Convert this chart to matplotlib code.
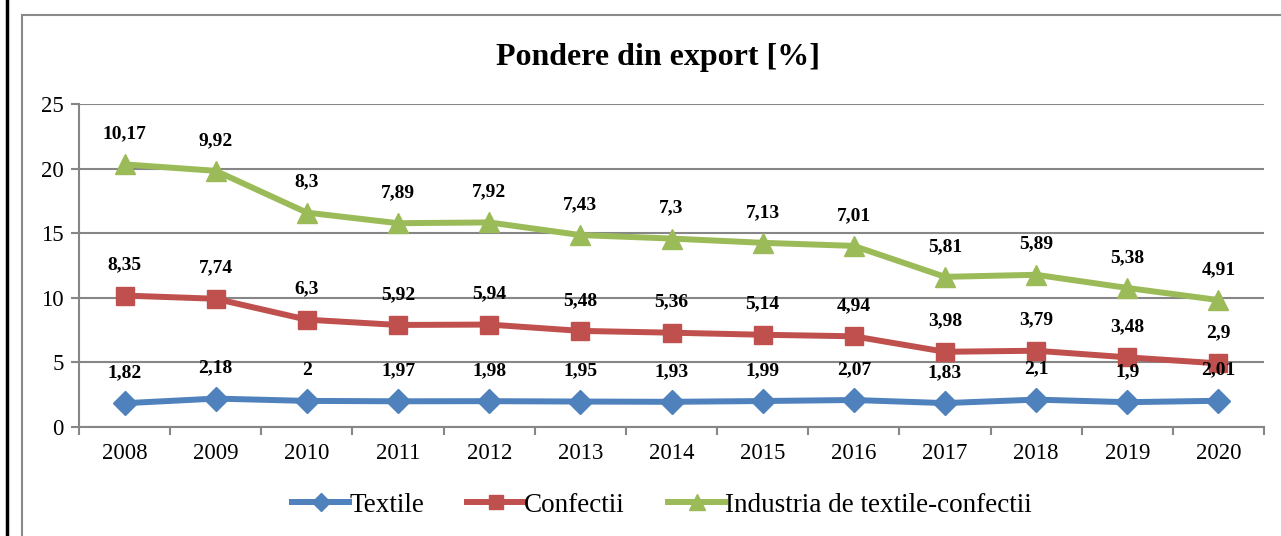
import numpy as np
import matplotlib
matplotlib.use("Agg")
import matplotlib.pyplot as plt
from matplotlib.patches import Rectangle
from matplotlib.lines import Line2D

years = ["2008", "2009", "2010", "2011", "2012", "2013", "2014",
         "2015", "2016", "2017", "2018", "2019", "2020"]
textile = [1.82, 2.18, 2, 1.97, 1.98, 1.95, 1.93, 1.99, 2.07, 1.83, 2.1, 1.9, 2.01]
confectii = [8.35, 7.74, 6.3, 5.92, 5.94, 5.48, 5.36, 5.14, 4.94, 3.98, 3.79, 3.48, 2.9]
industria = [10.17, 9.92, 8.3, 7.89, 7.92, 7.43, 7.3, 7.13, 7.01, 5.81, 5.89, 5.38, 4.91]
series_names = ["Textile", "Confectii", "Industria de textile-confectii"]
colors = ["#4F81BD", "#C0504D", "#9BBB59"]
markers = ["D", "s", "^"]
msizes = [12, 13, 14]

plt.rcParams['font.family'] = ['Liberation Serif', 'DejaVu Serif']

fig = plt.figure(figsize=(12.81, 5.36), dpi=100)
ax = fig.add_axes([79/1281, 1-426.7/536, (1264-79)/1281, (426.7-104.3)/536])

# stacked line chart (Excel style): plotted positions are cumulative sums
data = np.array([textile, confectii, industria])
stacked = np.cumsum(data, axis=0)
x = np.arange(len(years))

for i in range(3):
    ax.plot(x, stacked[i], color=colors[i], lw=4.3, marker=markers[i],
            ms=msizes[i], label=series_names[i], zorder=3, solid_joinstyle='round')
    for xi, yi, v in zip(x, stacked[i], data[i]):
        ax.annotate(f"{v:g}".replace(".", ","), (xi, yi), xytext=(0, 22),
                    textcoords="offset points", ha="center", va="center",
                    fontsize=14, fontweight="bold", zorder=4)

ax.set_xlim(-0.5, len(years) - 0.5)
ax.set_ylim(0, 25)
ax.set_yticks([0, 5, 10, 15, 20, 25])
ax.set_xticks(x)
ax.set_xticklabels(years)
ax.set_xticks(np.arange(-0.5, len(years)), minor=True)
ax.tick_params(axis='x', which='major', length=0, labelsize=16.5, pad=12)
ax.tick_params(axis='x', which='minor', length=6, width=1.5, color="#868686", direction='out')
ax.tick_params(axis='y', length=6, width=1.5, color="#868686", labelsize=16.5, pad=5)
ax.yaxis.grid(True, color="#868686", lw=1.5)
ax.set_axisbelow(True)
for s in ["top", "right"]:
    ax.spines[s].set_visible(False)
for s in ["left", "bottom"]:
    ax.spines[s].set_color("#868686")
    ax.spines[s].set_linewidth(1.5)

fig.text(658/1281, 1-58/536, "Pondere din export [%]", ha="center", va="center",
         fontsize=23, fontweight="bold")

leg = fig.legend(loc="center", bbox_to_anchor=(662/1281, 1-505/536), ncol=3,
                 frameon=False, fontsize=19.5, handlelength=2.1, handletextpad=0.0,
                 columnspacing=1.6, markerscale=0.8)

# chart border and page edge
fig.add_artist(Rectangle((22/1281, -0.1), 1.2, 1 - 15/536 + 0.1, transform=fig.transFigure,
                         fill=False, ec="#898989", lw=1.5))
fig.add_artist(Line2D([6.5/1281, 6.5/1281], [0, 1], transform=fig.transFigure,
                      color="black", lw=2.5))

fig.savefig("out.png", dpi=100)
